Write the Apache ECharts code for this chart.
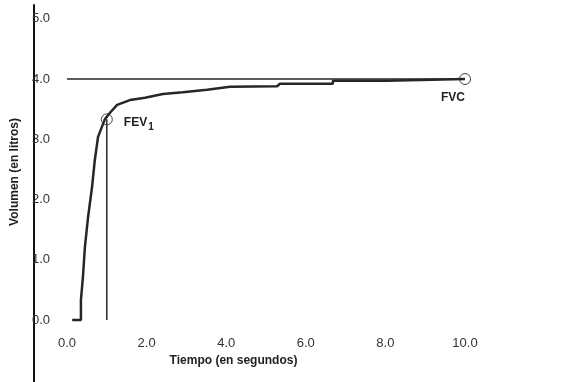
<!DOCTYPE html>
<html>
<head>
<meta charset="utf-8">
<script src="https://cdn.jsdelivr.net/npm/echarts@6/dist/echarts.min.js"></script>
<style>
  html, body { margin: 0; padding: 0; background: #fff; }
  #chart { width: 571px; height: 382px; }
</style>
</head>
<body>
<div id="chart"></div>
<script>
// curva volumen-tiempo (espirometría)
const timeSec = [0.13, 0.35, 0.35, 0.40, 0.45, 0.53, 0.63, 0.70, 0.78, 0.95, 1.08, 1.26, 1.58, 1.96, 1.98, 2.41, 2.91, 3.52, 4.10, 5.28, 5.35, 6.68, 6.68, 8.04, 8.04, 10.0]
const volumeL = [0.00, 0.00, 0.33, 0.71, 1.21, 1.71, 2.21, 2.66, 3.04, 3.33, 3.44, 3.57, 3.65, 3.69, 3.72, 3.75, 3.78, 3.82, 3.87, 3.88, 3.92, 3.92, 3.97, 3.97, 3.99, 4.00]
const fvcTime = [0, 10.0]
const fvcVolume = [4.0, 4.0]
const fev1Time = [1.0, 1.0]
const fev1Volume = [0, 3.33]
const xTicks = [0, 2, 4, 6, 8, 10]
const yTicks = [0, 1, 2, 3, 4, 5]

const ink = '#262626'
const font = 'Arial, "Liberation Sans", sans-serif'

const chart = echarts.init(document.getElementById('chart'))

const endMarker = (x, y, label) => ({
  value: [x, y],
  symbol: 'circle',
  symbolSize: 11,
  itemStyle: { color: 'rgba(0,0,0,0)', borderColor: '#444', borderWidth: 1 },
  label: label
})

chart.setOption({
  animation: false,
  grid: { left: 34, right: 0, top: 5, bottom: 0, outerBoundsMode: 'none', containLabel: false },
  xAxis: {
    type: 'value',
    min: -0.829,
    max: 12.663,
    offset: -62,
    splitLine: { show: false },
    axisTick: { show: false },
    axisLine: { show: false, onZero: false },
    axisLabel: {
      customValues: xTicks,
      margin: 17,
      fontSize: 13,
      fontFamily: font,
      color: '#333',
      formatter: v => v.toFixed(1)
    },
    name: 'Tiempo (en segundos)',
    nameLocation: 'middle',
    nameGap: 31,
    nameTextStyle: { fontSize: 12, fontWeight: 'bold', fontFamily: font, color: '#222', padding: [0, 138, 0, 0] }
  },
  yAxis: {
    type: 'value',
    min: -1.029,
    max: 5.228,
    splitLine: { show: false },
    axisTick: { show: false },
    axisLine: { show: true, onZero: false, lineStyle: { color: '#111', width: 2 } },
    axisLabel: {
      customValues: yTicks,
      margin: -16,
      fontSize: 13,
      fontFamily: font,
      color: '#333',
      formatter: v => v.toFixed(1)
    },
    name: 'Volumen (en litros)',
    nameLocation: 'middle',
    nameGap: 13,
    nameTextStyle: { fontSize: 12, fontWeight: 'bold', fontFamily: font, color: '#222', padding: [0, 0, 0, 43] }
  },
  series: [
    {
      type: 'line',
      data: timeSec.map((t, i) => [t, volumeL[i]]),
      showSymbol: false,
      lineStyle: { color: ink, width: 2.5 },
      z: 3
    },
    {
      type: 'line',
      data: [
        { value: [fvcTime[0], fvcVolume[0]], symbol: 'none' },
        endMarker(fvcTime[1], fvcVolume[1], {
          show: true, position: 'bottom', offset: [-12, 2],
          formatter: 'FVC', fontSize: 12, fontWeight: 'bold', fontFamily: font, color: '#222'
        })
      ],
      lineStyle: { color: ink, width: 1.5 },
      z: 2
    },
    {
      type: 'line',
      data: [
        { value: [fev1Time[0], fev1Volume[0]], symbol: 'none' },
        endMarker(fev1Time[1], fev1Volume[1], {
          show: true, position: 'right', distance: 11, offset: [0, 3],
          formatter: '{a|FEV}{b|1}',
          rich: {
            a: { fontSize: 12, fontWeight: 'bold', fontFamily: font, color: '#222' },
            b: { fontSize: 10, fontWeight: 'bold', fontFamily: font, color: '#222', padding: [9, 0, 0, 1] }
          }
        })
      ],
      lineStyle: { color: ink, width: 1.5 },
      z: 2
    }
  ]
})
</script>
</body>
</html>
